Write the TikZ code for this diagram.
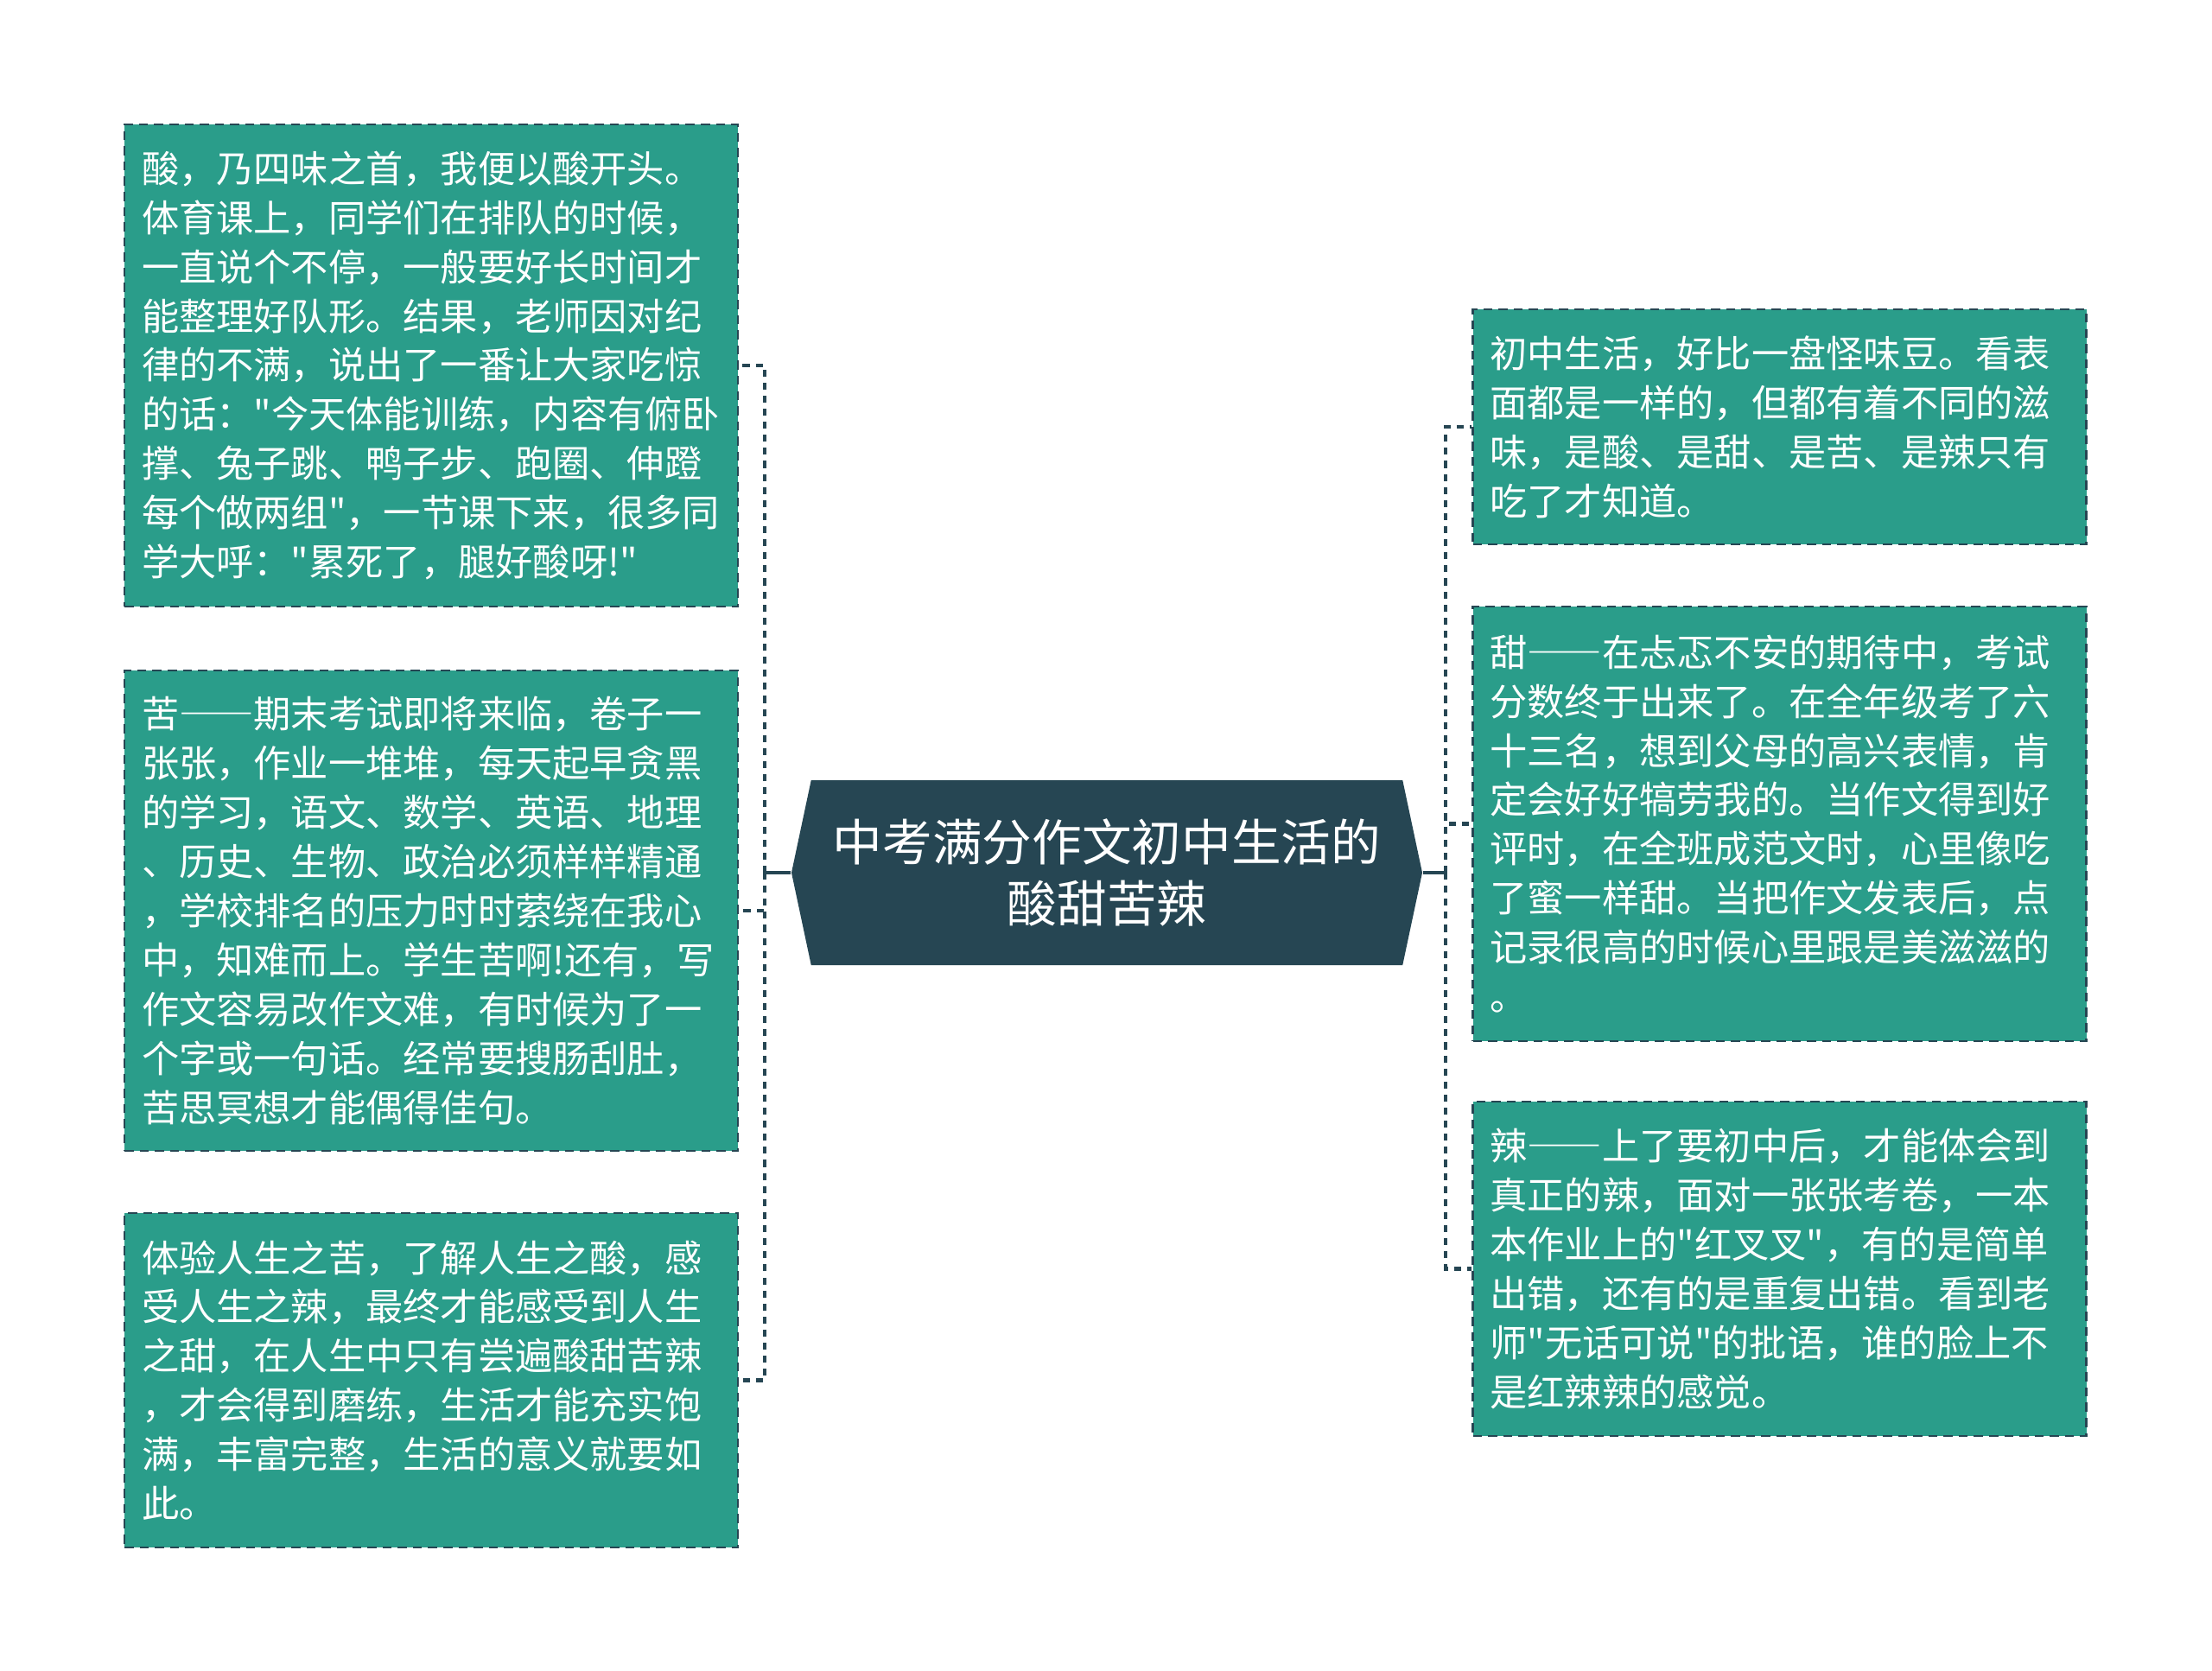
\documentclass[tikz,border=0pt]{standalone}
\usepackage{fontspec}
\setmainfont{Noto Sans CJK SC}[Ligatures=TeXOff]
\usepackage{xcolor}
\usetikzlibrary{positioning,shapes.symbols}
\definecolor{leafgreen}{HTML}{2A9D8A}
\definecolor{rootblue}{HTML}{264653}
\newcommand{\fulldash}{{\addfontfeatures{CharacterWidth=Full}——}}

\begin{document}
\begin{tikzpicture}[leaf node/.style={rectangle,fill=leafgreen,draw=rootblue,line width=0.8pt,dash pattern=on 3pt off 2pt,text=white,text width=6.7cm,inner xsep=0.2cm,inner ysep=0pt,align=left,font=\fontsize{12.3}{16.2}\selectfont},root node/.style={signal,signal to=west and east,signal pointer angle=156,fill=rootblue,text=white,minimum width=7.3cm,minimum height=2.14cm,inner sep=0pt,align=center,font=\fontsize{16.4}{20.4}\selectfont},link/.style={rootblue,line width=1.2pt},branch/.style={rootblue,line width=1.2pt,dash pattern=on 2.3pt off 2pt}]
\useasboundingbox (0,0) rectangle (25.6,-19.34);
\begin{scope}
\node[root node] (root) at (12.81,-10.10) {中考满分作文初中生活的\\酸甜苦辣};
\node[leaf node,minimum height=5.58cm] (sour) at (4.99,-4.23) {酸，乃四味之首，我便以酸开头。\\体育课上，同学们在排队的时候，\\一直说个不停，一般要好长时间才\\能整理好队形。结果，老师因对纪\\律的不满，说出了一番让大家吃惊\\的话："今天体能训练，内容有俯卧\\撑、兔子跳、鸭子步、跑圈、伸蹬\\每个做两组"，一节课下来，很多同\\学大呼："累死了，腿好酸呀!"};
\node[leaf node,minimum height=5.56cm] (bitter) at (4.99,-10.54) {苦\fulldash 期末考试即将来临，卷子一\\张张，作业一堆堆，每天起早贪黑\\的学习，语文、数学、英语、地理\\、历史、生物、政治必须样样精通\\，学校排名的压力时时萦绕在我心\\中，知难而上。学生苦啊!还有，写\\作文容易改作文难，有时候为了一\\个字或一句话。经常要搜肠刮肚，\\苦思冥想才能偶得佳句。};
\node[leaf node,minimum height=3.87cm] (life) at (4.99,-15.975) {体验人生之苦，了解人生之酸，感\\受人生之辣，最终才能感受到人生\\之甜，在人生中只有尝遍酸甜苦辣\\，才会得到磨练，生活才能充实饱\\满，丰富完整，生活的意义就要如\\此。};
\node[leaf node,minimum height=2.72cm] (beans) at (20.595,-4.94) {初中生活，好比一盘怪味豆。看表\\面都是一样的，但都有着不同的滋\\味，是酸、是甜、是苦、是辣只有\\吃了才知道。};
\node[leaf node,minimum height=5.03cm] (sweet) at (20.595,-9.535) {甜\fulldash 在忐忑不安的期待中，考试\\分数终于出来了。在全年级考了六\\十三名，想到父母的高兴表情，肯\\定会好好犒劳我的。当作文得到好\\评时，在全班成范文时，心里像吃\\了蜜一样甜。当把作文发表后，点\\记录很高的时候心里跟是美滋滋的\\。};
\node[leaf node,minimum height=3.87cm] (spicy) at (20.595,-14.685) {辣\fulldash 上了要初中后，才能体会到\\真正的辣，面对一张张考卷，一本\\本作业上的"红叉叉"，有的是简单\\出错，还有的是重复出错。看到老\\师"无话可说"的批语，谁的脸上不\\是红辣辣的感觉。};
\coordinate (lhub) at (8.85,-10.10);
\coordinate (rhub) at (16.73,-10.10);
\end{scope}
\begin{scope}
\draw[link] (root.west) -- (lhub);
\draw[link] (root.east) -- (rhub);
\draw[branch] (lhub) |- (sour.east);
\draw[branch] (lhub) |- (bitter.east);
\draw[branch] (lhub) |- (life.east);
\draw[branch] (rhub) |- (beans.west);
\draw[branch] (rhub) |- (sweet.west);
\draw[branch] (rhub) |- (spicy.west);
\end{scope}
\end{tikzpicture}
\end{document}
